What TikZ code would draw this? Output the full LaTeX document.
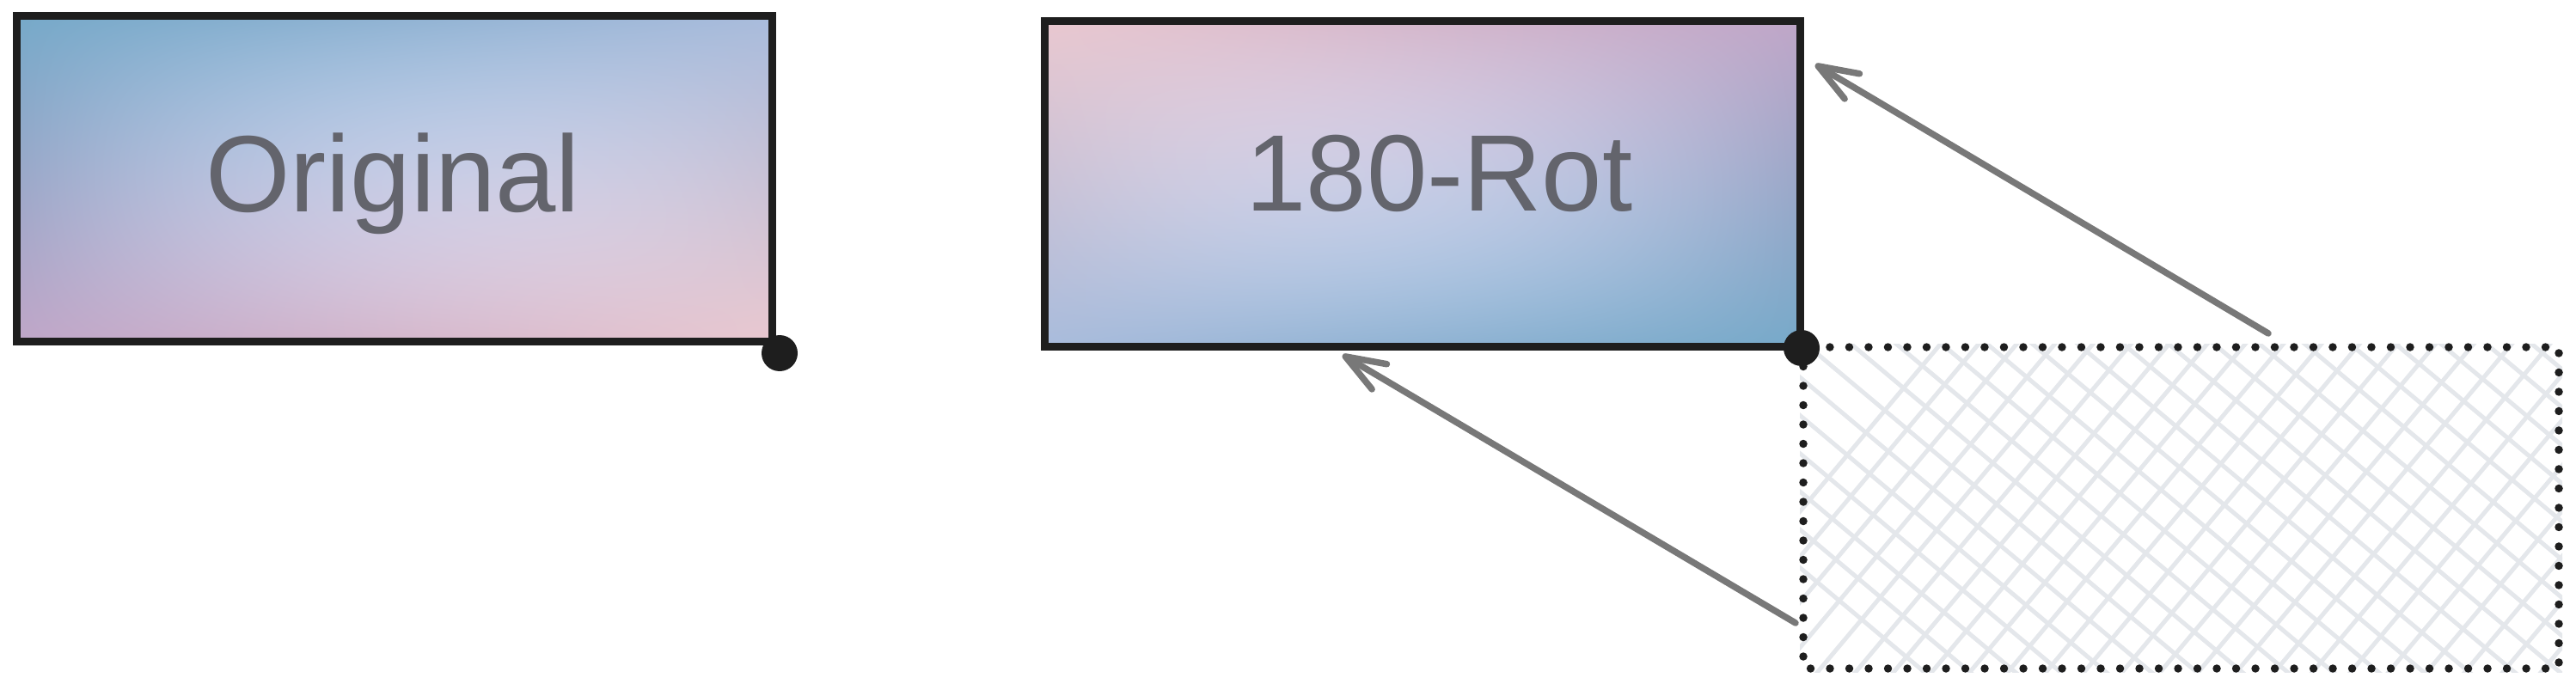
\documentclass[tikz,border=0pt]{standalone}
\usepackage{fontspec}
\setmainfont{Liberation Sans}
\usetikzlibrary{arrows.meta}
\definecolor{inkc}{RGB}{30,30,30}
\definecolor{txtc}{RGB}{99,100,108}
\definecolor{arrc}{RGB}{120,120,120}
\definecolor{hatchc}{RGB}{228,231,235}
\pgfdeclarefunctionalshading{excal}{\pgfpoint{0bp}{0bp}}{\pgfpoint{100bp}{100bp}}{}{
25 sub 50 div exch 25 sub 50 div exch
2 copy mul
2 index 1 exch sub 2 index 1 exch sub mul 1 index mul 16 mul
3 index 0.165 mul 3 index -0.286 mul add 2 index 0.035 mul add 1 index 0.079 mul add 0.749 add
4 index 0.133 mul 4 index 0.012 mul add 3 index -0.059 mul add 2 index 0.087 mul add 0.651 add
5 index 0.032 mul 5 index 0.004 mul add 4 index 0.043 mul add 3 index 0.081 mul add 0.784 add
7 3 roll pop pop pop pop
}
\tikzset{
  imgbox/.style={draw=inkc, line width=0.09cm, shade, shading=excal, inner sep=0pt,
    minimum width=8.79cm, minimum height=3.78cm},
  lbl/.style={text=txtc, font=\fontsize{36}{40}\selectfont, anchor=base, inner sep=0pt},
  pivot/.style={circle, fill=inkc, inner sep=0pt, minimum size=0.42cm},
  ghost/.style={draw=inkc, line width=0.095cm, line cap=round, dash pattern=on 0pt off 0.225cm},
  hatch/.style={hatchc, line width=0.05cm},
  rotarrow/.style={arrc, line width=0.075cm, line cap=round,
    -{Straight Barb[length=4.6mm, width=3.4mm, round]}}
}
\begin{document}
\begin{tikzpicture}
\useasboundingbox (0,0) rectangle (29.97,8.02);
% boxes
\node[imgbox] (orig) at (4.585,5.94) {};
\node[imgbox, shading angle=180] (rot) at (16.545,5.88) {};
\node[lbl] (origtxt) at (4.57,5.55) {Original};
\node[lbl] (rottxt) at (16.745,5.56) {180-Rot};
% ghost (original position)
\coordinate (gNW) at (20.98,3.98);
\coordinate (gSE) at (29.77,0.24);
\begin{scope}
  \clip (20.94,0.20) rectangle (29.81,4.02);
  \begin{scope}[rotate around={5:(25.375,2.11)}]
    \foreach \a in {0,0.48,...,17.5} {
      \draw[hatch] (16.0+\a,-2.5) -- ++(7,7);
      \draw[hatch] (16.0+\a,6.7) -- ++(7,-7);
    }
  \end{scope}
\end{scope}
\draw[ghost] (gNW) rectangle (gSE);
% pivot dots
\node[pivot] (p1) at (9.07,3.91) {};
\node[pivot] (p2) at (20.96,3.97) {};
% arrows
\coordinate (a1s) at (26.39,4.14);
\coordinate (a1e) at (21.12,7.27);
\coordinate (a2s) at (20.89,0.77);
\coordinate (a2e) at (15.62,3.89);
\draw[rotarrow] (a1s) -- (a1e);
\draw[rotarrow] (a2s) -- (a2e);
\end{tikzpicture}
\end{document}
